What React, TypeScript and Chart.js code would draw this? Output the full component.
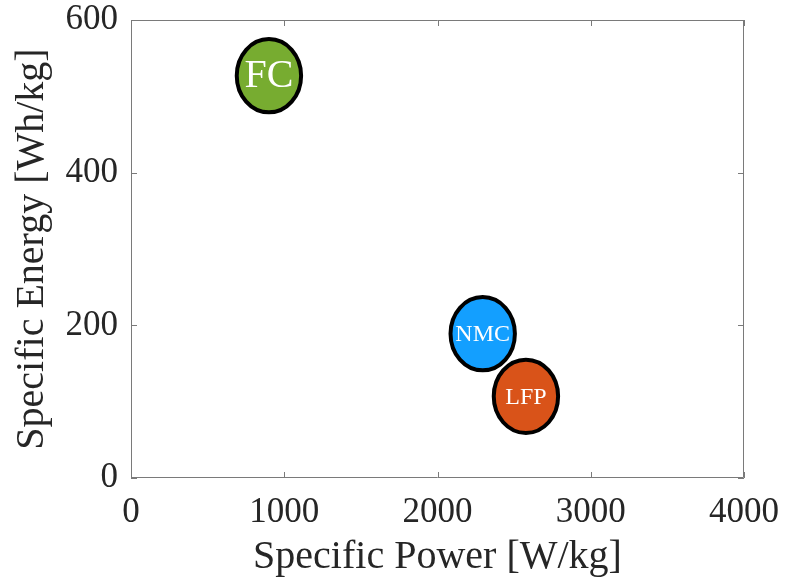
import { useEffect, useRef } from "react";
import { Chart, registerables } from "chart.js";

Chart.register(...registerables);

// Storage technologies placed by specific power / specific energy
const technologies = ["FC", "NMC", "LFP"];
const specificPower = [900, 2295, 2577]; // W/kg (ellipse centres)
const specificEnergy = [527, 189, 107]; // Wh/kg (ellipse centres)
const powerHalfRange = [210, 210, 210]; // W/kg, ellipse half-width
const energyHalfRange = [48, 48, 48]; // Wh/kg, ellipse half-height
const fillColors = ["#77AC30", "#139FFF", "#D95319"];
const labelSizes = [40, 24, 24];

const xTickValues = [0, 1000, 2000, 3000, 4000];
const yTickValues = [0, 200, 400, 600];

const SERIF = "'Liberation Serif', 'DejaVu Serif', serif";
const AXIS_GRAY = "#7a7a7a";
const TEXT_DARK = "#262626";

// Draws each technology as a filled, outlined ellipse with its name inside
const ellipsePlugin = {
  id: "techEllipses",
  afterDatasetsDraw(chart: any) {
    const { ctx, scales } = chart;
    const xs = scales.x;
    const ys = scales.y;
    ctx.save();
    technologies.forEach((name, i) => {
      const cx = xs.getPixelForValue(specificPower[i]);
      const cy = ys.getPixelForValue(specificEnergy[i]);
      const rx = Math.abs(xs.getPixelForValue(specificPower[i] + powerHalfRange[i]) - cx);
      const ry = Math.abs(ys.getPixelForValue(specificEnergy[i] + energyHalfRange[i]) - cy);
      ctx.beginPath();
      ctx.ellipse(cx, cy, rx, ry, 0, 0, Math.PI * 2);
      ctx.fillStyle = fillColors[i];
      ctx.fill();
      ctx.lineWidth = 4;
      ctx.strokeStyle = "#000000";
      ctx.stroke();
      ctx.fillStyle = "#ffffff";
      ctx.font = `${labelSizes[i]}px ${SERIF}`;
      ctx.textAlign = "center";
      ctx.textBaseline = "middle";
      ctx.fillText(name, cx, cy + 1);
    });
    ctx.restore();
  },
};

// Box around the plot area with inward-pointing ticks on all four sides
const boxPlugin = {
  id: "boxAxes",
  afterDraw(chart: any) {
    const { ctx, chartArea, scales } = chart;
    const { left, right, top, bottom } = chartArea;
    const len = 6;
    ctx.save();
    ctx.strokeStyle = AXIS_GRAY;
    ctx.lineWidth = 1;
    ctx.beginPath();
    ctx.rect(left + 0.5, top + 0.5, right - left - 1, bottom - top - 1);
    ctx.stroke();
    ctx.beginPath();
    xTickValues.forEach((v) => {
      const px = Math.round(scales.x.getPixelForValue(v)) + 0.5;
      ctx.moveTo(px, bottom);
      ctx.lineTo(px, bottom - len);
      ctx.moveTo(px, top);
      ctx.lineTo(px, top + len);
    });
    yTickValues.forEach((v) => {
      const py = Math.round(scales.y.getPixelForValue(v)) + 0.5;
      ctx.moveTo(left, py);
      ctx.lineTo(left + len, py);
      ctx.moveTo(right, py);
      ctx.lineTo(right - len, py);
    });
    ctx.stroke();
    ctx.restore();
  },
};

export default function App() {
  const canvasRef = useRef<HTMLCanvasElement | null>(null);

  useEffect(() => {
    if (!canvasRef.current) return;
    const chart = new Chart(canvasRef.current, {
      type: "scatter",
      data: {
        datasets: [
          {
            label: "Technologies",
            data: technologies.map((_, i) => ({ x: specificPower[i], y: specificEnergy[i] })),
            pointRadius: 0,
            pointHoverRadius: 0,
          },
        ],
      },
      options: {
        responsive: false,
        animation: false,
        events: [],
        layout: { padding: { top: 20, right: 42, left: 0, bottom: 0 } },
        plugins: {
          legend: { display: false },
          tooltip: { enabled: false },
        },
        scales: {
          x: {
            type: "linear",
            min: 0,
            max: 4000,
            afterBuildTicks: (scale: any) => {
              scale.ticks = xTickValues.map((value) => ({ value }));
            },
            afterFit: (scale: any) => {
              scale.height = 105;
              scale.paddingLeft = 0;
              scale.paddingRight = 0;
            },
            grid: { display: false, drawTicks: false },
            border: { display: false },
            ticks: {
              padding: 14,
              color: TEXT_DARK,
              font: { family: SERIF, size: 35 },
              maxRotation: 0,
              callback: (v: any) => String(v),
            },
            title: {
              display: true,
              text: "Specific Power [W/kg]",
              color: TEXT_DARK,
              font: { family: SERIF, size: 40 },
              padding: { top: 0, bottom: 2 },
            },
          },
          y: {
            type: "linear",
            min: 0,
            max: 600,
            afterBuildTicks: (scale: any) => {
              scale.ticks = yTickValues.map((value) => ({ value }));
            },
            afterFit: (scale: any) => {
              scale.width = 131;
              scale.paddingTop = 0;
              scale.paddingBottom = 0;
            },
            grid: { display: false, drawTicks: false },
            border: { display: false },
            ticks: {
              padding: 13,
              color: TEXT_DARK,
              font: { family: SERIF, size: 35 },
              callback: (v: any) => String(v),
            },
            title: {
              display: true,
              text: "Specific Energy [Wh/kg]",
              color: TEXT_DARK,
              font: { family: SERIF, size: 40 },
              padding: { top: 8, bottom: 0 },
            },
          },
        },
      },
      plugins: [ellipsePlugin, boxPlugin],
    });
    return () => chart.destroy();
  }, []);

  return (
    <div style={{ position: "fixed", left: 0, top: 0, width: 786, height: 583, background: "#ffffff" }}>
      <canvas ref={canvasRef} width={786} height={583} style={{ display: "block" }} />
    </div>
  );
}
